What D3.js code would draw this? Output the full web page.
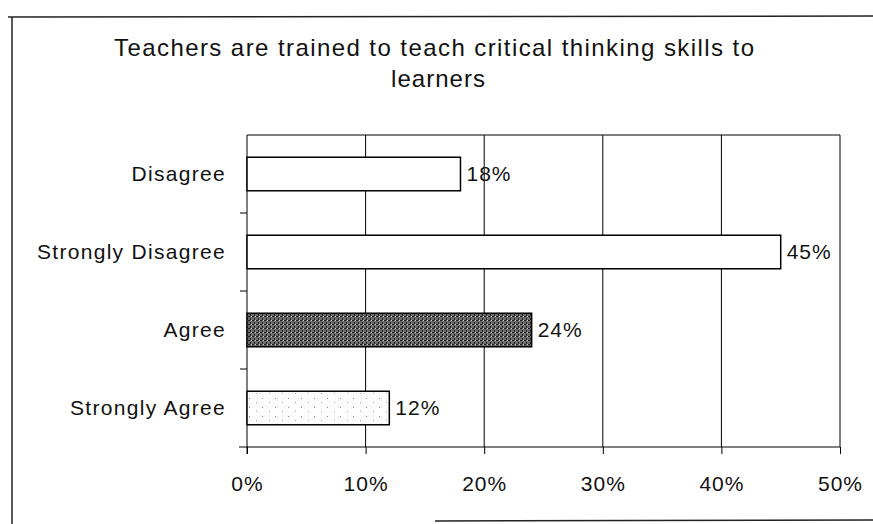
<!DOCTYPE html>
<html>
<head>
<meta charset="utf-8">
<script src="https://cdn.jsdelivr.net/npm/d3@7"></script>
<style>
  body { margin: 0; background: #fff; }
  text { font-family: "Liberation Sans", Arial, sans-serif; fill: #111; }
</style>
</head>
<body>
<div id="chart"></div>
<script>
// data
var categories = ['Disagree', 'Strongly Disagree', 'Agree', 'Strongly Agree'];
var values = [18, 45, 24, 12];
var tickValues = [0, 10, 20, 30, 40, 50];
var fills = ['#fff', '#fff', 'url(#darkDots)', 'url(#lightDots)'];

var W = 873, H = 524;
var plotLeft = 247, plotRight = 840, plotTop = 135, plotBottom = 447;

var svg = d3.select('#chart').append('svg')
  .attr('width', W)
  .attr('height', H);

// stipple patterns for the printed greys
var defs = svg.append('defs');
var dark = defs.append('pattern').attr('id', 'darkDots')
  .attr('width', 4).attr('height', 4).attr('patternUnits', 'userSpaceOnUse');
dark.append('rect').attr('width', 4).attr('height', 4).attr('fill', '#6a6a6a');
dark.append('rect').attr('width', 2).attr('height', 1).attr('fill', '#1a1a1a');
dark.append('rect').attr('x', 2).attr('y', 2).attr('width', 1).attr('height', 2).attr('fill', '#262626');
dark.append('rect').attr('x', 3).attr('y', 0).attr('width', 1).attr('height', 1).attr('fill', '#d0d0d0');
var light = defs.append('pattern').attr('id', 'lightDots')
  .attr('width', 13).attr('height', 9).attr('patternUnits', 'userSpaceOnUse');
light.append('rect').attr('width', 13).attr('height', 9).attr('fill', '#fdfdfd');
light.append('rect').attr('x', 2).attr('y', 2).attr('width', 1).attr('height', 1).attr('fill', '#888');
light.append('rect').attr('x', 9).attr('y', 6).attr('width', 1).attr('height', 1).attr('fill', '#aaa');

// outer frame bits of the scanned page
svg.append('line').attr('x1', 8).attr('x2', W).attr('y1', 17).attr('y2', 16)
  .attr('stroke', '#222').attr('stroke-width', 1.5);
svg.append('line').attr('x1', 12).attr('x2', 12).attr('y1', 17).attr('y2', H)
  .attr('stroke', '#222').attr('stroke-width', 1.5);
svg.append('line').attr('x1', 435).attr('x2', W).attr('y1', 521).attr('y2', 520)
  .attr('stroke', '#222').attr('stroke-width', 1.5);

// title
var title = svg.append('text')
  .attr('text-anchor', 'middle')
  .style('font-size', '24px');
title.append('tspan').attr('x', 434).attr('y', 56)
  .attr('textLength', 640).attr('lengthAdjust', 'spacing')
  .text('Teachers are trained to teach critical thinking skills to');
title.append('tspan').attr('x', 438).attr('y', 87)
  .attr('textLength', 94).attr('lengthAdjust', 'spacing')
  .text('learners');

var x = d3.scaleLinear().domain([0, 50]).range([plotLeft, plotRight]);
var y = d3.scaleBand().domain(categories).range([plotTop, plotBottom]).paddingInner(0.57).paddingOuter(0.285);

// grid
svg.append('g').selectAll('line')
  .data(tickValues.slice(1))
  .enter().append('line')
  .attr('x1', function (d) { return x(d); })
  .attr('x2', function (d) { return x(d); })
  .attr('y1', plotTop).attr('y2', plotBottom)
  .attr('stroke', '#000');
svg.append('line').attr('x1', plotLeft).attr('x2', plotRight).attr('y1', plotTop).attr('y2', plotTop)
  .attr('stroke', '#000');

// x axis
var xAxis = svg.append('g')
  .attr('transform', 'translate(0,' + plotBottom + ')')
  .call(d3.axisBottom(x).tickValues(tickValues).tickSize(7).tickPadding(22)
    .tickFormat(function (d) { return d + '%'; }));
xAxis.select('.domain').attr('stroke', '#000').attr('d', 'M' + (plotLeft - 8) + ',0H' + plotRight);
xAxis.selectAll('text')
  .style('font-size', '21px')
  .style('letter-spacing', '1px')
  .attr('fill', '#111');

// y axis, ticks between categories
var yAxis = svg.append('g').attr('transform', 'translate(' + plotLeft + ',0)');
yAxis.append('line').attr('y1', plotTop).attr('y2', plotBottom + 7).attr('stroke', '#000');
yAxis.selectAll('.sep')
  .data(categories.slice(1))
  .enter().append('line')
  .attr('x1', -7).attr('x2', 0)
  .attr('y1', function (d) { return y(d) - y.step() * y.paddingInner() / 2; })
  .attr('y2', function (d) { return y(d) - y.step() * y.paddingInner() / 2; })
  .attr('stroke', '#000');
yAxis.selectAll('.cat')
  .data(categories)
  .enter().append('text')
  .attr('x', -21)
  .attr('y', function (d) { return y(d) + y.bandwidth() / 2; })
  .attr('dy', '0.35em')
  .attr('text-anchor', 'end')
  .style('font-size', '21px')
  .style('letter-spacing', '1.3px')
  .text(function (d) { return d; });

// bars
svg.selectAll('.bar')
  .data(values)
  .enter().append('rect')
  .attr('x', x(0))
  .attr('y', function (d, i) { return y(categories[i]); })
  .attr('width', function (d) { return x(d) - x(0); })
  .attr('height', y.bandwidth())
  .attr('fill', function (d, i) { return fills[i]; })
  .attr('stroke', '#000')
  .attr('stroke-width', 1.5);

// value labels
svg.selectAll('.val')
  .data(values)
  .enter().append('text')
  .attr('x', function (d) { return x(d) + 6; })
  .attr('y', function (d, i) { return y(categories[i]) + y.bandwidth() / 2; })
  .attr('dy', '0.35em')
  .style('font-size', '21px')
  .style('letter-spacing', '1px')
  .text(function (d) { return d + '%'; });
</script>
</body>
</html>
